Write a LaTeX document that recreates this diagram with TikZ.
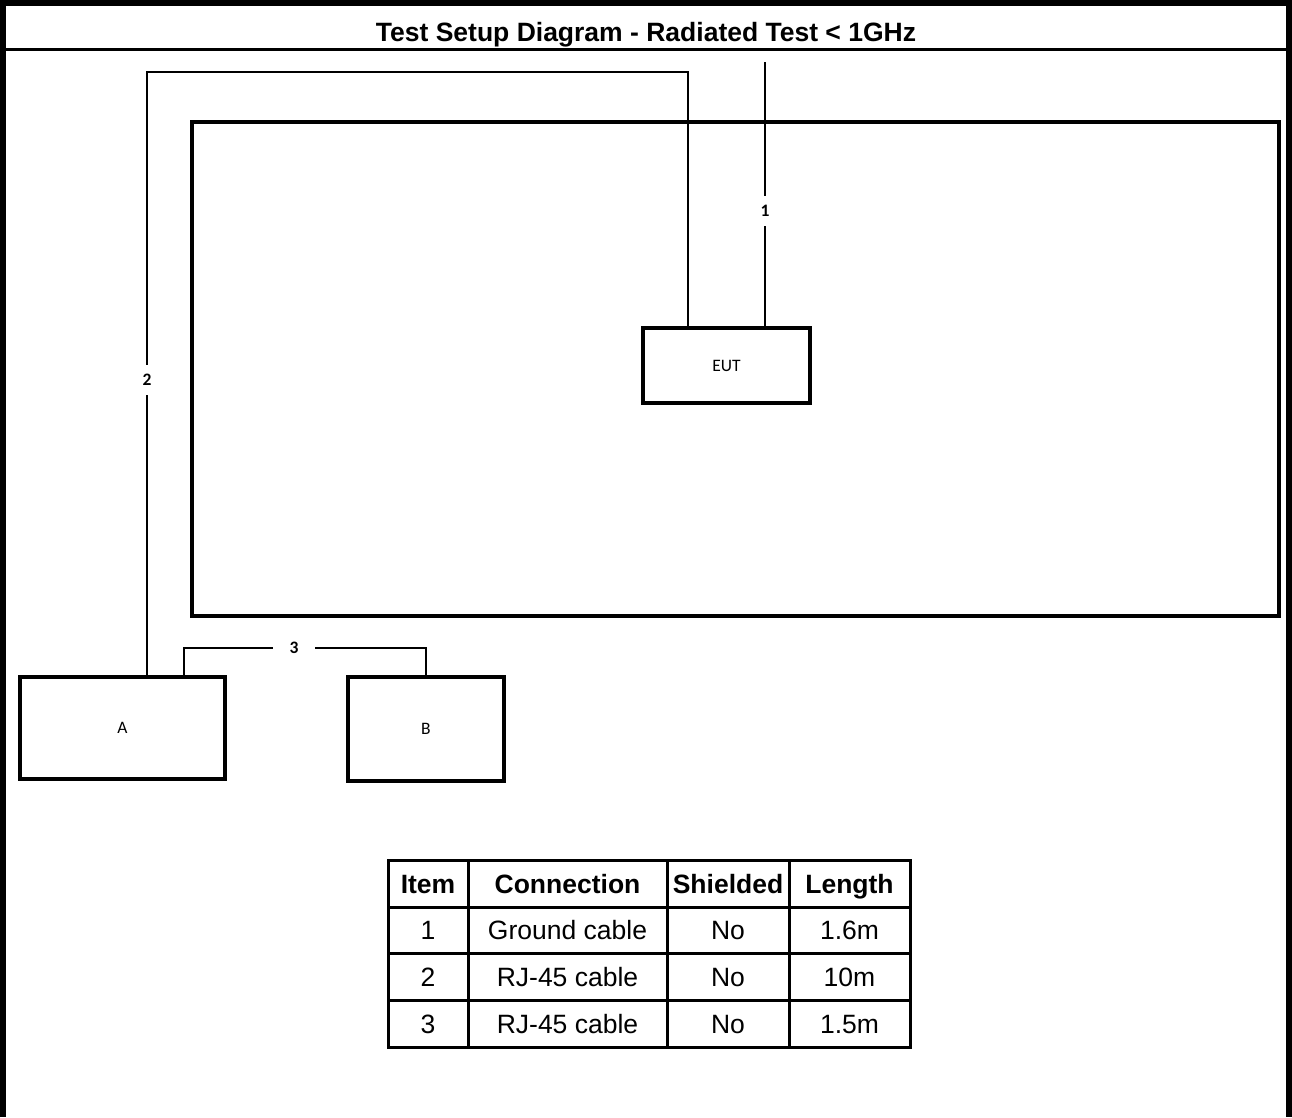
\documentclass[tikz,border=0pt]{standalone}
\usepackage{fontspec}
\setmainfont{Liberation Sans}
\newfontfamily\calibri{Carlito}
\usepackage{tikz}
\usetikzlibrary{positioning,calc}

\begin{document}
\begin{tikzpicture}[x=1pt,y=-1pt]
\tikzstyle{cadre}=[line width=6pt]
\tikzstyle{boite}=[draw,line width=3.5pt,inner sep=0pt,font=\calibri\fontsize{17.5}{20}\selectfont]
\tikzstyle{cable}=[line width=2pt]
\tikzstyle{etiquette}=[fill=white,inner sep=0pt,minimum height=30pt,font=\calibri\bfseries\fontsize{17.5}{20}\selectfont]
\tikzstyle{grille}=[line width=3pt]
\tikzstyle{cellule}=[inner sep=0pt,text height=19pt,text depth=0pt,font=\fontsize{26.5}{30}\selectfont]
\tikzstyle{entete}=[cellule,font=\bfseries\fontsize{26.5}{30}\selectfont]
\def\ColA{428}
\def\ColB{567.5}
\def\ColC{728}
\def\ColD{849.5}
\def\LigneA{883.5}
\def\LigneB{930}
\def\LigneC{976.5}
\def\LigneD{1023.5}
\useasboundingbox (0,0) rectangle (1292,1117);
% cadre et titre
\draw[cadre] (3,1117) -- (3,3) -- (1289,3) -- (1289,1117);
\draw[line width=3pt] (0,49) -- (1292,49);
\node[font=\bfseries\fontsize{26.5}{30}\selectfont,anchor=base] (titre) at (646,41) {Test Setup Diagram - Radiated Test < 1GHz};
% plan de test et equipements
\node[draw,line width=4pt,minimum width=1087pt,minimum height=494pt] (plan) at (735.5,369) {};
\node[boite,minimum width=167pt,minimum height=75pt] (EUT) at (726.5,365.5) {EUT};
\node[boite,minimum width=205pt,minimum height=102pt] (A) at (122.5,728) {A};
\node[boite,minimum width=156pt,minimum height=104pt] (B) at (426,729) {B};
% cables
\coordinate (c1) at (765,62);
\coordinate (c2) at (147,72);
\coordinate (c2b) at (688,72);
\coordinate (c3) at (184,648);
\draw[cable] (c1) -- node[etiquette,pos=0.564] (e1) {1} (c1 |- EUT.north);
\draw[cable] (c2 |- A.north) -- node[etiquette,pos=0.49] (e2) {2} (c2) -- (c2b) -- (c2b |- EUT.north);
\draw[cable] (c3 |- A.north) -- (c3) -- node[etiquette,minimum width=42pt,pos=0.455] (e3) {3} (c3 -| B.north) -- (B.north);
% tableau
\draw[grille] (388,860) rectangle (910,1047);
\draw[grille] (388,907) -- (910,907);
\draw[grille] (388,953) -- (910,953);
\draw[grille] (388,1000) -- (910,1000);
\draw[grille] (468,860) -- (468,1047);
\draw[grille] (667,860) -- (667,1047);
\draw[grille] (789,860) -- (789,1047);
\node[entete] (item) at (\ColA,\LigneA) {Item};
\node[entete] (connexion) at (\ColB,\LigneA) {Connection};
\node[entete] (blinde) at (\ColC,\LigneA) {Shielded};
\node[entete] (longueur) at (\ColD,\LigneA) {Length};
\node[cellule] (itemA) at (\ColA,\LigneB) {1};
\node[cellule] (connexionA) at (\ColB,\LigneB) {Ground cable};
\node[cellule] (blindeA) at (\ColC,\LigneB) {No};
\node[cellule] (longueurA) at (\ColD,\LigneB) {1.6m};
\node[cellule] (itemB) at (\ColA,\LigneC) {2};
\node[cellule] (connexionB) at (\ColB,\LigneC) {RJ-45 cable};
\node[cellule] (blindeB) at (\ColC,\LigneC) {No};
\node[cellule] (longueurB) at (\ColD,\LigneC) {10m};
\node[cellule] (itemC) at (\ColA,\LigneD) {3};
\node[cellule] (connexionC) at (\ColB,\LigneD) {RJ-45 cable};
\node[cellule] (blindeC) at (\ColC,\LigneD) {No};
\node[cellule] (longueurC) at (\ColD,\LigneD) {1.5m};
\end{tikzpicture}
\end{document}
